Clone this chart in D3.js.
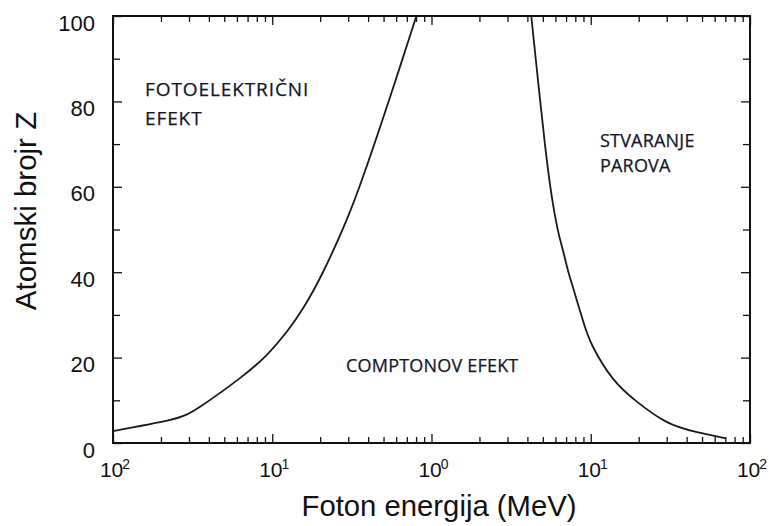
<!DOCTYPE html>
<html>
<head>
<meta charset="utf-8">
<script src="https://cdn.jsdelivr.net/npm/d3@7"></script>
<style>
  body { margin: 0; background: #fff; }
  svg { display: block; }
  .tick-label { font-family: "Liberation Sans", Arial, sans-serif; fill: #111; }
  .note { font-family: "Open Sans", sans-serif; font-size: 18px; fill: #14142a; stroke: #14142a; stroke-width: 0.25; }
</style>
</head>
<body>
<svg id="chart" width="769" height="526"></svg>
<script>
// granica fotoelektricni / Compton
var energyLeft = [0.01, 0.0228, 0.0352, 0.0627, 0.0922, 0.123, 0.1565, 0.2088, 0.2928, 0.372, 0.462, 0.547, 0.648, 0.804];
var zLeft = [2.8, 5.4, 8.5, 15.2, 20.6, 26.0, 31.6, 40.1, 52.2, 62.4, 72.6, 80.8, 89.2, 100];
// granica Compton / stvaranje parova
var energyRight = [4.23, 4.65, 5.13, 5.65, 6.21, 6.68, 7.18, 7.71, 8.91, 10.3, 13.7, 19.3, 29.7, 45.8, 70.6];
var zRight = [100, 85.4, 70.7, 58.5, 49.9, 45.2, 40.5, 36.6, 28.8, 22.6, 15.2, 9.8, 5, 2.6, 1.1];

var xTicks = [0.01, 0.1, 1, 10, 100];
var xTickExp = ["2", "1", "0", "1", "2"];
var yTicks = [0, 20, 40, 60, 80, 100];
var yMinor = [10, 30, 50, 70, 90];

var noteText = [["FOTOELEKTRIČNI", "EFEKT"], ["STVARANJE", "PAROVA"], ["COMPTONOV EFEKT"]];

var chart = d3.select("#chart");
var pLeft = 113, pRight = 750, pTop = 16, pBottom = 443;

var x = d3.scaleLog().domain([0.01, 100]).range([pLeft, pRight]);
var y = d3.scaleLinear().domain([0, 100]).range([pBottom, pTop]);

var xMinor = [];
xTicks.slice(0, -1).forEach(function(d) {
  for (var k = 2; k <= 9; k++) xMinor.push(d * k);
});

function clean(g) {
  g.select(".domain").remove();
  g.selectAll(".tick line").attr("stroke", "#111").attr("stroke-width", 1.3);
}

// x ticks, inward, bottom and top
chart.append("g").attr("transform", "translate(0," + pBottom + ")")
  .call(d3.axisBottom(x).tickValues(xTicks).tickSize(-9).tickFormat("")).call(clean);
chart.append("g").attr("transform", "translate(0," + pBottom + ")")
  .call(d3.axisBottom(x).tickValues(xMinor).tickSize(-6).tickFormat("")).call(clean);
chart.append("g").attr("transform", "translate(0," + pTop + ")")
  .call(d3.axisTop(x).tickValues(xTicks).tickSize(-9).tickFormat("")).call(clean);
chart.append("g").attr("transform", "translate(0," + pTop + ")")
  .call(d3.axisTop(x).tickValues(xMinor).tickSize(-6).tickFormat("")).call(clean);

// y ticks, inward, left and right
chart.append("g").attr("transform", "translate(" + pLeft + ",0)")
  .call(d3.axisLeft(y).tickValues(yTicks).tickSize(-9).tickFormat("")).call(clean);
chart.append("g").attr("transform", "translate(" + pLeft + ",0)")
  .call(d3.axisLeft(y).tickValues(yMinor).tickSize(-7).tickFormat("")).call(clean);
chart.append("g").attr("transform", "translate(" + pRight + ",0)")
  .call(d3.axisRight(y).tickValues(yTicks).tickSize(-9).tickFormat("")).call(clean);
chart.append("g").attr("transform", "translate(" + pRight + ",0)")
  .call(d3.axisRight(y).tickValues(yMinor).tickSize(-7).tickFormat("")).call(clean);

// frame
chart.append("rect")
  .attr("x", pLeft).attr("y", pTop)
  .attr("width", pRight - pLeft).attr("height", pBottom - pTop)
  .attr("fill", "none").attr("stroke", "#111").attr("stroke-width", 2);

// y labels
chart.selectAll(".ylab").data(yTicks).enter().append("text")
  .attr("class", "tick-label ylab")
  .attr("x", 95)
  .attr("y", function(d) { return y(d) + 14.5; })
  .attr("text-anchor", "end")
  .style("font-size", "22px")
  .text(function(d) { return d; });

// x labels, 10 with exponent
var xl = chart.selectAll(".xlab").data(xTicks).enter().append("text")
  .attr("class", "tick-label xlab")
  .attr("x", function(d) { return x(d) + 2; })
  .attr("y", 477)
  .attr("text-anchor", "middle")
  .style("font-size", "21px");
xl.append("tspan").text("10");
xl.append("tspan")
  .attr("dy", -8).attr("dx", -1)
  .style("font-size", "14px")
  .text(function(d, i) { return xTickExp[i]; });

// axis titles
chart.append("text")
  .attr("class", "tick-label")
  .attr("x", 439).attr("y", 516)
  .attr("text-anchor", "middle")
  .attr("textLength", 275).attr("lengthAdjust", "spacingAndGlyphs")
  .style("font-size", "30px")
  .text("Foton energija (MeV)");

chart.append("text")
  .attr("class", "tick-label")
  .attr("transform", "translate(36,211) rotate(-90)")
  .attr("text-anchor", "middle")
  .style("font-size", "29.5px")
  .text("Atomski brojr Z");

// curves
var line = d3.line()
  .x(function(d) { return x(d[0]); })
  .y(function(d) { return y(d[1]); })
  .curve(d3.curveNatural);

[[energyLeft, zLeft], [energyRight, zRight]].forEach(function(s) {
  chart.append("path")
    .datum(d3.zip(s[0], s[1]))
    .attr("d", line)
    .attr("fill", "none")
    .attr("stroke", "#1a1a1a")
    .attr("stroke-width", 1.8);
});

// annotations: [x, prvi red y, razmak, velicina, razmak slova]
var notePos = [[145, 96, 29, 19, 0.9], [600, 147, 25, 18, 0.2], [346, 372, 0, 18, 0.2]];
noteText.forEach(function(lines, j) {
  var p = notePos[j];
  lines.forEach(function(t, i) {
    chart.append("text")
      .attr("class", "note")
      .attr("x", p[0])
      .attr("y", p[1] + i * p[2])
      .style("font-size", p[3] + "px")
      .style("letter-spacing", p[4] + "px")
      .text(t);
  });
});
</script>
</body>
</html>
